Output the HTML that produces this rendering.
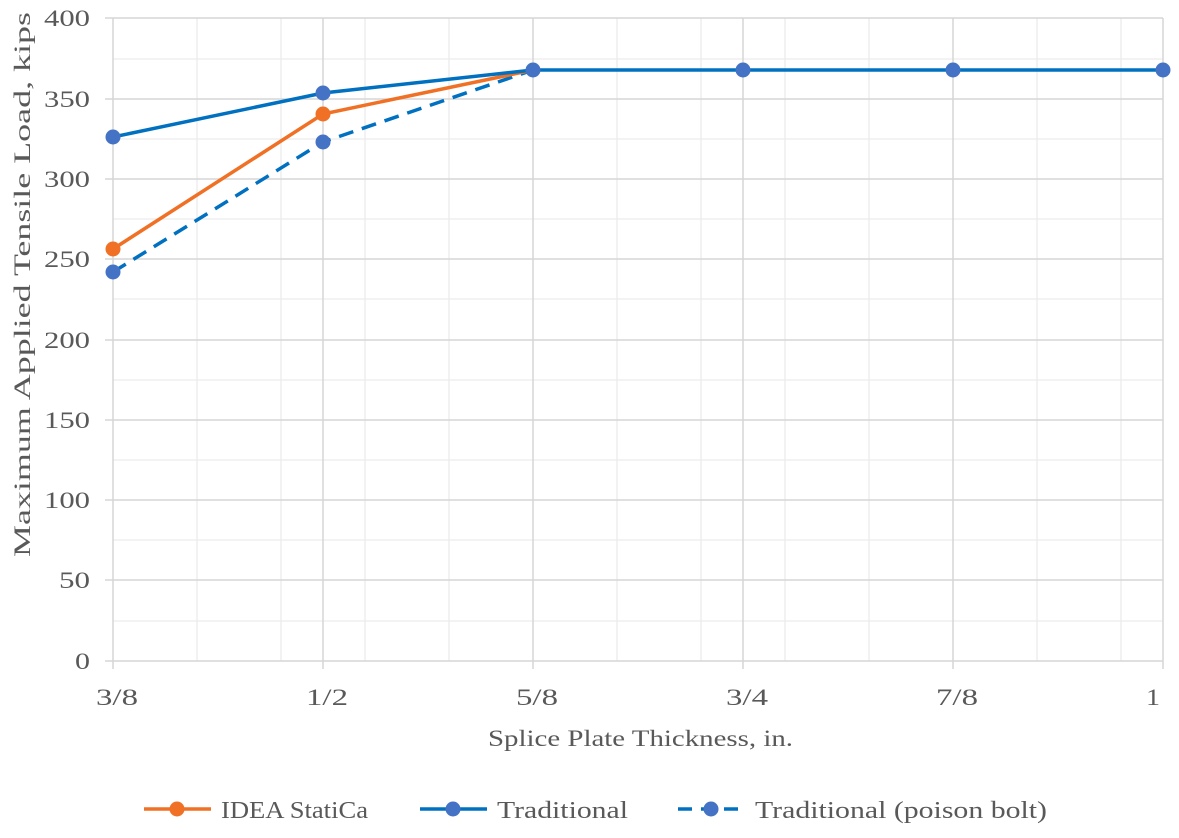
<!DOCTYPE html>
<html><head><meta charset="utf-8"><style>
body{margin:0;background:#fff}
svg text{font-family:"Liberation Serif",serif;fill:#595959}
</style></head><body>
<svg width="1179" height="833" xmlns="http://www.w3.org/2000/svg">
<g stroke="#ececec" stroke-width="1.3">
<line x1="113" y1="59" x2="1163" y2="59"/><line x1="113" y1="139" x2="1163" y2="139"/><line x1="113" y1="219" x2="1163" y2="219"/><line x1="113" y1="299" x2="1163" y2="299"/><line x1="113" y1="380" x2="1163" y2="380"/><line x1="113" y1="460" x2="1163" y2="460"/><line x1="113" y1="540" x2="1163" y2="540"/><line x1="113" y1="621" x2="1163" y2="621"/>
<line x1="197" y1="18" x2="197" y2="661"/><line x1="281" y1="18" x2="281" y2="661"/><line x1="365" y1="18" x2="365" y2="661"/><line x1="449" y1="18" x2="449" y2="661"/><line x1="617" y1="18" x2="617" y2="661"/><line x1="701" y1="18" x2="701" y2="661"/><line x1="785" y1="18" x2="785" y2="661"/><line x1="869" y1="18" x2="869" y2="661"/><line x1="1037" y1="18" x2="1037" y2="661"/><line x1="1121" y1="18" x2="1121" y2="661"/>
</g>
<g stroke="#d6d6d6" stroke-width="1.5">
<line x1="105" y1="18" x2="1163" y2="18"/><line x1="105" y1="99" x2="1163" y2="99"/><line x1="105" y1="179" x2="1163" y2="179"/><line x1="105" y1="259" x2="1163" y2="259"/><line x1="105" y1="340" x2="1163" y2="340"/><line x1="105" y1="420" x2="1163" y2="420"/><line x1="105" y1="500" x2="1163" y2="500"/><line x1="105" y1="580" x2="1163" y2="580"/><line x1="105" y1="661" x2="1163" y2="661"/>
<line x1="113" y1="18" x2="113" y2="669"/><line x1="323" y1="18" x2="323" y2="669"/><line x1="533" y1="18" x2="533" y2="669"/><line x1="743" y1="18" x2="743" y2="669"/><line x1="953" y1="18" x2="953" y2="669"/><line x1="1163" y1="18" x2="1163" y2="669"/>
</g>
<g font-size="23" text-anchor="end" lengthAdjust="spacingAndGlyphs">
<text x="90" y="26" textLength="46" lengthAdjust="spacingAndGlyphs">400</text><text x="90" y="107" textLength="46" lengthAdjust="spacingAndGlyphs">350</text><text x="90" y="187" textLength="46" lengthAdjust="spacingAndGlyphs">300</text><text x="90" y="267" textLength="46" lengthAdjust="spacingAndGlyphs">250</text><text x="90" y="348" textLength="46" lengthAdjust="spacingAndGlyphs">200</text><text x="90" y="428" textLength="46" lengthAdjust="spacingAndGlyphs">150</text><text x="90" y="508" textLength="46" lengthAdjust="spacingAndGlyphs">100</text><text x="90" y="588" textLength="31" lengthAdjust="spacingAndGlyphs">50</text><text x="90" y="669" textLength="15" lengthAdjust="spacingAndGlyphs">0</text>
</g>
<g font-size="23">
<text x="96" y="705" textLength="42" lengthAdjust="spacingAndGlyphs">3/8</text><text x="306" y="705" textLength="42" lengthAdjust="spacingAndGlyphs">1/2</text><text x="516" y="705" textLength="42" lengthAdjust="spacingAndGlyphs">5/8</text><text x="726" y="705" textLength="42" lengthAdjust="spacingAndGlyphs">3/4</text><text x="936" y="705" textLength="42" lengthAdjust="spacingAndGlyphs">7/8</text><text x="1146" y="705" textLength="14" lengthAdjust="spacingAndGlyphs">1</text>
<text x="488" y="746" textLength="305" lengthAdjust="spacingAndGlyphs">Splice Plate Thickness, in.</text>
<text transform="translate(30,557) rotate(-90)" textLength="545" lengthAdjust="spacingAndGlyphs">Maximum Applied Tensile Load, kips</text>
</g>
<polyline points="113,272 323,142 533,70" fill="none" stroke="#0070c0" stroke-width="3.5" stroke-dasharray="15,9"/>
<polyline points="113,249 323,114 533,70" fill="none" stroke="#f07125" stroke-width="3.5"/>
<polyline points="113,137 323,93 533,70 1163,70" fill="none" stroke="#0070c0" stroke-width="3.5"/>
<g fill="#4472c4">
<circle cx="113" cy="137" r="7.5"/><circle cx="323" cy="93" r="7.5"/><circle cx="533" cy="70" r="7.5"/><circle cx="743" cy="70" r="7.5"/><circle cx="953" cy="70" r="7.5"/><circle cx="1163" cy="70" r="7.5"/>
<circle cx="113" cy="272" r="7.5"/><circle cx="323" cy="142" r="7.5"/>
</g>
<g fill="#f07125"><circle cx="113" cy="249" r="7.5"/><circle cx="323" cy="114" r="7.5"/></g>
<line x1="144" y1="809" x2="211" y2="809" stroke="#f07125" stroke-width="3.5"/><circle cx="177" cy="809" r="7.5" fill="#f07125"/>
<text x="221" y="818" font-size="24" textLength="147" lengthAdjust="spacingAndGlyphs">IDEA StatiCa</text>
<line x1="420" y1="809" x2="487" y2="809" stroke="#0070c0" stroke-width="3.5"/><circle cx="453" cy="809" r="7.5" fill="#4472c4"/>
<text x="497" y="818" font-size="24" textLength="131" lengthAdjust="spacingAndGlyphs">Traditional</text>
<line x1="678" y1="809" x2="745" y2="809" stroke="#0070c0" stroke-width="3.5" stroke-dasharray="14,9"/><circle cx="711" cy="809" r="7.5" fill="#4472c4"/>
<text x="755" y="818" font-size="24" textLength="292" lengthAdjust="spacingAndGlyphs">Traditional (poison bolt)</text>
</svg>
</body></html>
